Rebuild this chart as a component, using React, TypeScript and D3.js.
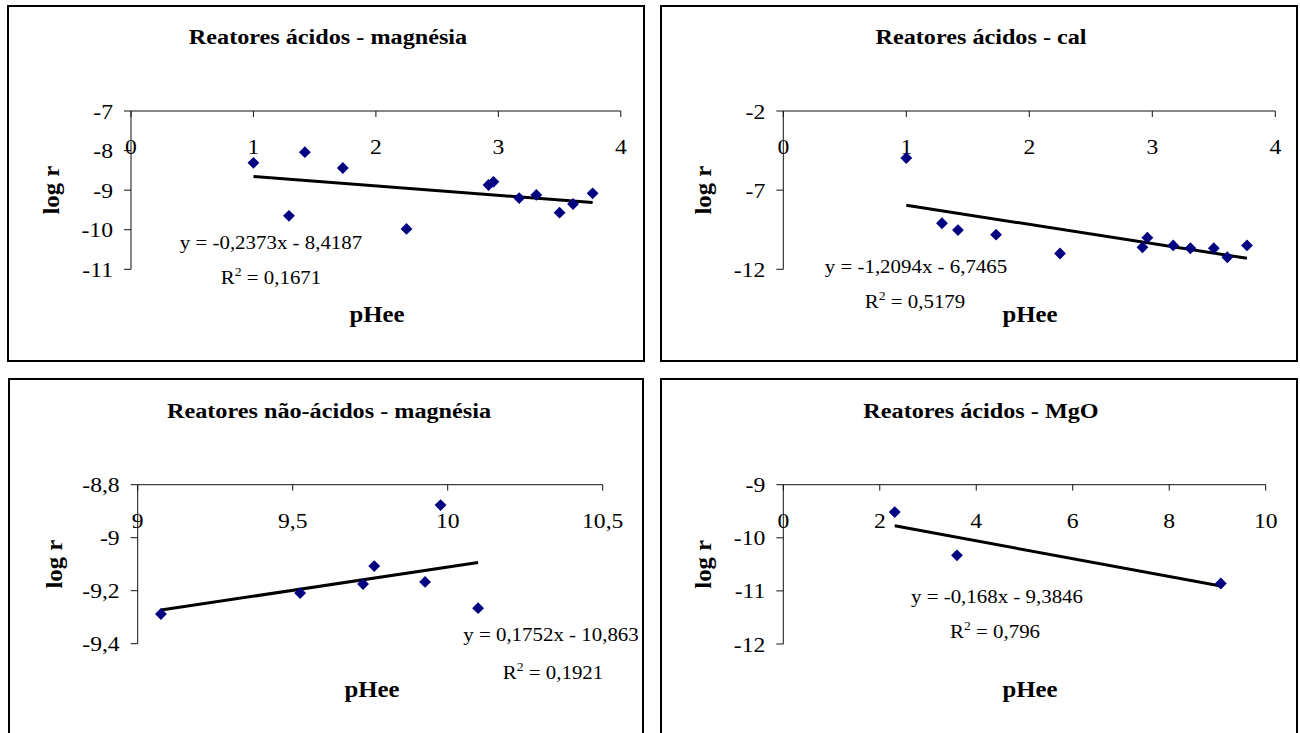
import React from "react";
import * as d3 from "d3";

// pHee of the acid reactors (shared by the magnésia and cal panels)
const acidPHee = [1.0, 1.29, 1.42, 1.73, 2.25, 2.92, 2.96, 3.17, 3.31, 3.5, 3.61, 3.77];
const acidMagnesiaLogR = [-8.31, -9.65, -8.04, -8.44, -9.98, -8.87, -8.79, -9.2, -9.12, -9.57, -9.35, -9.08];
const acidCalLogR = [-4.97, -9.09, -9.52, -9.81, -11.0, -10.61, -10.0, -10.49, -10.67, -10.67, -11.24, -10.49];

const nonAcidPHee = [9.075, 9.524, 9.727, 9.763, 9.927, 9.977, 10.098];
const nonAcidMagnesiaLogR = [-9.288, -9.209, -9.175, -9.107, -9.167, -8.877, -9.266];

const mgoPHee = [2.31, 3.6, 9.07];
const mgoLogR = [-9.515, -10.33, -10.86];

// Linear fits as printed on each chart
const fitSlopes = [-0.2373, -1.2094, 0.1752, -0.168];
const fitIntercepts = [-8.4187, -6.7465, -10.863, -9.3846];
const fitR2 = ["0,1671", "0,5179", "0,1921", "0,796"];

const titles = [
  "Reatores ácidos - magnésia",
  "Reatores ácidos - cal",
  "Reatores não-ácidos - magnésia",
  "Reatores ácidos - MgO",
];

const xTicks1 = [0, 1, 2, 3, 4];
const yTicks1 = [-7, -8, -9, -10, -11];
const xTicks2 = [0, 1, 2, 3, 4];
const yTicks2 = [-2, -7, -12];
const xTicks3 = [9, 9.5, 10, 10.5];
const yTicks3 = [-8.8, -9, -9.2, -9.4];
const xTicks4 = [0, 2, 4, 6, 8, 10];
const yTicks4 = [-9, -10, -11, -12];

const FONT = "'Liberation Serif', 'Times New Roman', serif";
const SX = 1.1; // wide serif face
const MARKER = "#000080";

const fmt = (v: number) => String(v).replace(".", ",");
const eqText = (m: number, b: number) =>
  `y = ${fmt(m)}x ${b < 0 ? "-" : "+"} ${fmt(Math.abs(b))}`;

type Layout = {
  frame: [number, number, number, number];
  plot: { left: number; right: number; top: number; bottom: number };
  title: [number, number];
  xLabel: [number, number];
  yLabelX: number;
  eq: [number, number];
  r2: [number, number];
};

const layouts: Layout[] = [
  {
    frame: [8, 6, 636, 355],
    plot: { left: 131, right: 620.8, top: 111, bottom: 269.3 },
    title: [328, 44],
    xLabel: [377, 322],
    yLabelX: 59,
    eq: [271, 249],
    r2: [271, 284],
  },
  {
    frame: [661, 6, 636, 355],
    plot: { left: 783.3, right: 1275.3, top: 111, bottom: 269.3 },
    title: [981, 44],
    xLabel: [1030, 322],
    yLabelX: 711,
    eq: [916, 273],
    r2: [915, 308],
  },
  {
    frame: [9, 379, 634, 362],
    plot: { left: 137.7, right: 602.7, top: 484.7, bottom: 643.7 },
    title: [329, 418],
    xLabel: [372, 697],
    yLabelX: 62,
    eq: [551, 641],
    r2: [553, 679],
  },
  {
    frame: [661, 379, 636, 362],
    plot: { left: 783.3, right: 1265.7, top: 484.7, bottom: 644 },
    title: [981, 418],
    xLabel: [1030, 697],
    yLabelX: 711,
    eq: [997, 603],
    r2: [995, 638],
  },
];

type Series = { xs: number[]; ys: number[]; xTicks: number[]; yTicks: number[] };
const series: Series[] = [
  { xs: acidPHee, ys: acidMagnesiaLogR, xTicks: xTicks1, yTicks: yTicks1 },
  { xs: acidPHee, ys: acidCalLogR, xTicks: xTicks2, yTicks: yTicks2 },
  { xs: nonAcidPHee, ys: nonAcidMagnesiaLogR, xTicks: xTicks3, yTicks: yTicks3 },
  { xs: mgoPHee, ys: mgoLogR, xTicks: xTicks4, yTicks: yTicks4 },
];

function Txt(props: {
  x: number;
  y: number;
  size: number;
  anchor?: "start" | "middle" | "end";
  bold?: boolean;
  rotate?: number;
  children: React.ReactNode;
}) {
  const { x, y, size, anchor = "middle", bold, rotate = 0, children } = props;
  return (
    <g transform={`translate(${x},${y}) rotate(${rotate}) scale(${SX},1)`}>
      <text
        x={0}
        y={0}
        textAnchor={anchor}
        fontFamily={FONT}
        fontSize={size}
        fontWeight={bold ? "bold" : "normal"}
        fill="#000"
      >
        {children}
      </text>
    </g>
  );
}

const diamond = d3.symbol().type(d3.symbolSquare).size(70)();

function Panel({ i }: { i: number }) {
  const L = layouts[i];
  const S = series[i];
  const xDomain = d3.extent(S.xTicks) as [number, number];
  const yDomain = d3.extent(S.yTicks) as [number, number];
  const x = d3.scaleLinear().domain(xDomain).range([L.plot.left, L.plot.right]);
  const y = d3.scaleLinear().domain([yDomain[1], yDomain[0]]).range([L.plot.top, L.plot.bottom]);
  const axisY = y(yDomain[1]);
  const axisX = x(xDomain[0]);

  const fx = d3.extent(S.xs) as [number, number];
  const m = fitSlopes[i];
  const b = fitIntercepts[i];
  const fitLine = d3
    .line<number>()
    .x((v) => x(v))
    .y((v) => y(m * v + b))(fx);

  const [fxp, fyp, fw, fh] = L.frame;
  return (
    <g>
      <rect x={fxp} y={fyp} width={fw} height={fh} fill="#fff" stroke="#000" strokeWidth={2} />
      <Txt x={L.title[0]} y={L.title[1]} size={22} bold>
        {titles[i]}
      </Txt>

      {/* horizontal axis drawn along the top value of the y range */}
      <line x1={x(xDomain[0])} x2={x(xDomain[1])} y1={axisY} y2={axisY} stroke="#111" strokeWidth={1} />
      {S.xTicks.map((t) => (
        <g key={"xt" + t}>
          <line x1={x(t)} x2={x(t)} y1={axisY} y2={axisY + 6} stroke="#111" strokeWidth={1} />
          <Txt x={x(t)} y={axisY + 43} size={21.5}>
            {fmt(t)}
          </Txt>
        </g>
      ))}

      {/* vertical axis */}
      <line x1={axisX} x2={axisX} y1={y(yDomain[1])} y2={y(yDomain[0])} stroke="#111" strokeWidth={1} />
      {S.yTicks.map((t) => (
        <g key={"yt" + t}>
          <line x1={axisX - 7} x2={axisX} y1={y(t)} y2={y(t)} stroke="#111" strokeWidth={1} />
          <Txt x={axisX - 18} y={y(t) + 7.5} size={21.5} anchor="end">
            {fmt(t)}
          </Txt>
        </g>
      ))}

      <Txt x={L.xLabel[0]} y={L.xLabel[1]} size={22.5} bold>
        pHee
      </Txt>
      <Txt x={L.yLabelX} y={(L.plot.top + L.plot.bottom) / 2} size={22.5} bold rotate={-90}>
        log r
      </Txt>

      <path d={fitLine ?? ""} fill="none" stroke="#000" strokeWidth={3} />

      {S.xs.map((v, k) => (
        <path
          key={"pt" + k}
          d={diamond ?? ""}
          transform={`translate(${x(v)},${y(S.ys[k])}) rotate(45)`}
          fill={MARKER}
        />
      ))}

      <Txt x={L.eq[0]} y={L.eq[1]} size={19}>
        {eqText(m, b)}
      </Txt>
      <Txt x={L.r2[0]} y={L.r2[1]} size={19}>
        R<tspan fontSize={12.5} dy={-8.5}>2</tspan>
        <tspan dy={8.5}>{` = ${fitR2[i]}`}</tspan>
      </Txt>
    </g>
  );
}

export default function App() {
  return (
    <svg
      width={1300}
      height={733}
      style={{ position: "absolute", left: 0, top: 0, background: "#fff" }}
    >
      <rect x={0} y={0} width={1300} height={733} fill="#fff" />
      {layouts.map((_, i) => (
        <Panel key={i} i={i} />
      ))}
    </svg>
  );
}
